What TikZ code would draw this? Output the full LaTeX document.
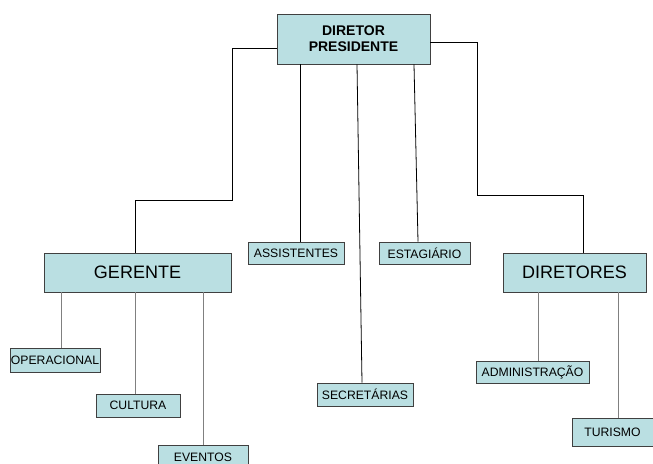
\documentclass[tikz,border=0pt]{standalone}
\usepackage{fontspec}
\setmainfont{Liberation Sans}
\usepackage{xcolor}
\definecolor{boxfill}{RGB}{186,223,226}
\definecolor{boxline}{RGB}{64,64,64}

\begin{document}
\begin{tikzpicture}[
    x=1pt, y=-1pt,
    block/.style={rectangle, draw=boxline, fill=boxfill, line width=0.8pt, inner sep=0pt, align=center},
    big/.style={block, font=\fontsize{18}{20}\selectfont},
    small/.style={block, font=\fontsize{12.2}{14}\selectfont},
    link/.style={black, line width=0.8pt},
    sub/.style={gray, line width=1pt}
]
\useasboundingbox (0,0) rectangle (653,463);

\node[block, minimum width=153pt, minimum height=50pt, font=\fontsize{14}{16}\selectfont\bfseries] (pres) at (353.5,39) {DIRETOR\\PRESIDENTE};

\node[big, minimum width=187pt, minimum height=39pt] (gerente) at (137.5,272.5) {GERENTE};
\node[big, minimum width=143pt, minimum height=39pt] (diretores) at (574.5,272.5) {DIRETORES};

\node[small, minimum width=96pt, minimum height=22pt] (assistentes) at (296,253) {ASSISTENTES};
\node[small, minimum width=91pt, minimum height=22pt] (estagiario) at (424.5,253) {ESTAGIÁRIO};
\node[small, minimum width=96pt, minimum height=23pt] (secretarias) at (365,394.5) {SECRETÁRIAS};

\node[small, minimum width=90pt, minimum height=24pt] (operacional) at (55,360) {OPERACIONAL};
\node[small, minimum width=84pt, minimum height=23pt] (cultura) at (138,405.5) {CULTURA};
\node[small, minimum width=90pt, minimum height=24pt] (eventos) at (203,457) {EVENTOS};

\node[small, minimum width=113pt, minimum height=22pt] (administracao) at (532.5,372) {ADMINISTRAÇÃO};
\node[small, minimum width=81pt, minimum height=28pt] (turismo) at (612.5,432) {TURISMO};

% links from the top
\draw[link] ([yshift=-9pt]pres.west) -| (232,200) -| (gerente.north -| 135,0);
\draw[link] ([yshift=-3pt]pres.east) -| (477,195) -| (diretores.north -| 583,0);
\draw[link] (pres.south -| 300,0) -- (assistentes.north -| 300,0);
\draw[link] (pres.south -| 357,0) -- (secretarias.north -| 362,0);
\draw[link] (pres.south -| 414,0) -- (estagiario.north -| 418,0);

% gerente
\draw[sub] (gerente.south -| 61,0) -- (operacional.north -| 61,0);
\draw[sub] (gerente.south -| 135,0) -- (cultura.north -| 135,0);
\draw[sub] (gerente.south -| 203,0) -- (eventos.north -| 203,0);

% diretores
\draw[sub] (diretores.south -| 538,0) -- (administracao.north -| 538,0);
\draw[sub] (diretores.south -| 618,0) -- (turismo.north -| 618,0);

\end{tikzpicture}
\end{document}
